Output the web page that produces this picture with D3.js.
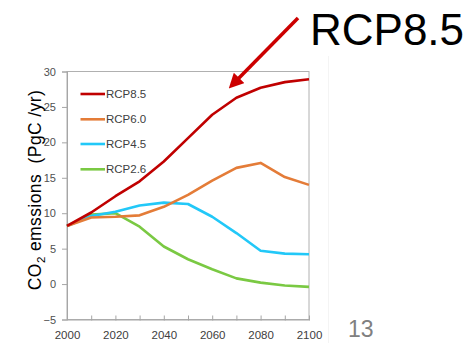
<!DOCTYPE html>
<html>
<head>
<meta charset="utf-8">
<script src="https://cdn.jsdelivr.net/npm/d3@7"></script>
<style>
  html, body { margin: 0; padding: 0; background: #fff; }
  svg { display: block; }
</style>
</head>
<body>
<svg id="chart" width="469" height="343"></svg>
<script>
// Projected fossil CO2 emissions under the four RCP scenarios (PgC/yr)
const years = [2000, 2010, 2020, 2030, 2040, 2050, 2060, 2070, 2080, 2090, 2100];
const rcp85 = [8.2, 10.1, 12.4, 14.5, 17.3, 20.6, 23.9, 26.3, 27.7, 28.5, 28.9];
const rcp60 = [8.2, 9.4, 9.5, 9.7, 10.9, 12.6, 14.6, 16.4, 17.1, 15.1, 14.0];
const rcp45 = [8.2, 9.6, 10.2, 11.1, 11.5, 11.3, 9.5, 7.2, 4.7, 4.3, 4.2];
const rcp26 = [8.2, 9.8, 10.0, 8.1, 5.3, 3.5, 2.1, 0.8, 0.2, -0.2, -0.4];
const seriesNames = ["RCP8.5", "RCP6.0", "RCP4.5", "RCP2.6"];
const seriesColors = ["#c00000", "#e47c38", "#22c8f8", "#7ac943"];
const yTicks = [-5, 0, 5, 10, 15, 20, 25, 30];
const xTickLabels = [2000, 2020, 2040, 2060, 2080, 2100];
const xMinorTicks = years;

const series = [rcp85, rcp60, rcp45, rcp26];

const svg = d3.select("#chart");
const plotLeft = 67, plotRight = 309, plotTop = 71.5, plotBottom = 319.5;

const x = d3.scaleLinear().domain([2000, 2100]).range([plotLeft, plotRight]);
const y = d3.scaleLinear().domain([-5, 30]).range([plotBottom, plotTop]);

const tickFont = "'Liberation Sans Narrow', 'Arial Narrow', sans-serif";

// faint divider to the right of the plot
svg.append("line")
  .attr("x1", 328.5).attr("x2", 328.5).attr("y1", 56).attr("y2", 343)
  .attr("stroke", "#f4f4f4").attr("stroke-width", 1);

// plot frame
svg.append("rect")
  .attr("x", plotLeft).attr("y", plotTop)
  .attr("width", plotRight - plotLeft).attr("height", plotBottom - plotTop)
  .attr("fill", "none").attr("stroke", "#b0b0b0").attr("stroke-width", 1);

// y axis
const yAxis = d3.axisLeft(y).tickValues(yTicks).tickSize(5).tickPadding(6);
const gy = svg.append("g").attr("transform", `translate(${plotLeft},0)`).call(yAxis);
gy.select(".domain").attr("stroke", "#a6a6a6");
gy.selectAll(".tick line").attr("stroke", "#a6a6a6");
gy.selectAll(".tick text")
  .attr("fill", "#505050")
  .style("font-family", tickFont)
  .style("font-size", "11px");

// x axis: minor ticks every decade, labels every 20 years
const xAxis = d3.axisBottom(x).tickValues(xMinorTicks).tickSize(0)
  .tickFormat(d => xTickLabels.includes(d) ? String(d) : "");
const gx = svg.append("g").attr("transform", `translate(0,${plotBottom})`).call(xAxis);
gx.select(".domain").attr("stroke", "#a6a6a6");
gx.selectAll(".tick line").attr("y1", -4).attr("y2", 1).attr("stroke", "#a6a6a6");
gx.selectAll(".tick text")
  .attr("y", 11)
  .attr("fill", "#404040")
  .style("font-family", tickFont)
  .style("font-size", "11.5px");

// lines
const line = d3.line()
  .x((d, i) => x(years[i]))
  .y(d => y(d));

// draw from lowest to highest so red stays on top
[3, 2, 1, 0].forEach(k => {
  svg.append("path")
    .datum(series[k])
    .attr("d", line)
    .attr("fill", "none")
    .attr("stroke", seriesColors[k])
    .attr("stroke-width", 2.6)
    .attr("stroke-linejoin", "round");
});

// legend
const legendY = [94, 119.3, 144, 169.3];
seriesNames.forEach((name, i) => {
  svg.append("line")
    .attr("x1", 80.5).attr("x2", 105).attr("y1", legendY[i]).attr("y2", legendY[i])
    .attr("stroke", seriesColors[i]).attr("stroke-width", 2.6);
  svg.append("text")
    .attr("x", 106).attr("y", legendY[i] + 4)
    .attr("fill", "#404040")
    .style("font-family", tickFont)
    .style("font-size", "11.5px")
    .text(name);
});

// y axis title with subscript
const yTitle = svg.append("text")
  .attr("transform", "translate(41,190) rotate(-90)")
  .attr("text-anchor", "middle")
  .attr("fill", "#000")
  .style("white-space", "pre")
  .style("letter-spacing", "0.4px")
  .style("font-family", "'Liberation Sans', Arial, sans-serif")
  .style("font-size", "17.5px");
yTitle.append("tspan").text("CO");
yTitle.append("tspan").attr("dy", 4).style("font-size", "11.5px").text("2");
yTitle.append("tspan").attr("dy", -4).text(" emssions  (PgC /yr)");

// callout arrow
const defs = svg.append("defs");
defs.append("marker")
  .attr("id", "arrowHead")
  .attr("viewBox", "0 0 10 10")
  .attr("refX", 2).attr("refY", 5)
  .attr("markerWidth", 4.2).attr("markerHeight", 4.2)
  .attr("markerUnits", "strokeWidth")
  .attr("orient", "auto")
  .append("path")
  .attr("d", "M0,0 L10,5 L0,10 Z")
  .attr("fill", "#cc0000");

svg.append("line")
  .attr("x1", 298).attr("y1", 18)
  .attr("x2", 237).attr("y2", 80)
  .attr("stroke", "#cc0000").attr("stroke-width", 3.5)
  .attr("marker-end", "url(#arrowHead)");

svg.append("text")
  .attr("x", 310).attr("y", 45)
  .attr("fill", "#000")
  .style("font-family", "'Liberation Sans', Arial, sans-serif")
  .style("font-size", "44px")
  .text("RCP8.5");

// page number
svg.append("text")
  .attr("x", 348).attr("y", 337)
  .attr("fill", "#808080")
  .style("font-family", "'Liberation Sans', Arial, sans-serif")
  .style("font-size", "23px")
  .text("13");
</script>
</body>
</html>
